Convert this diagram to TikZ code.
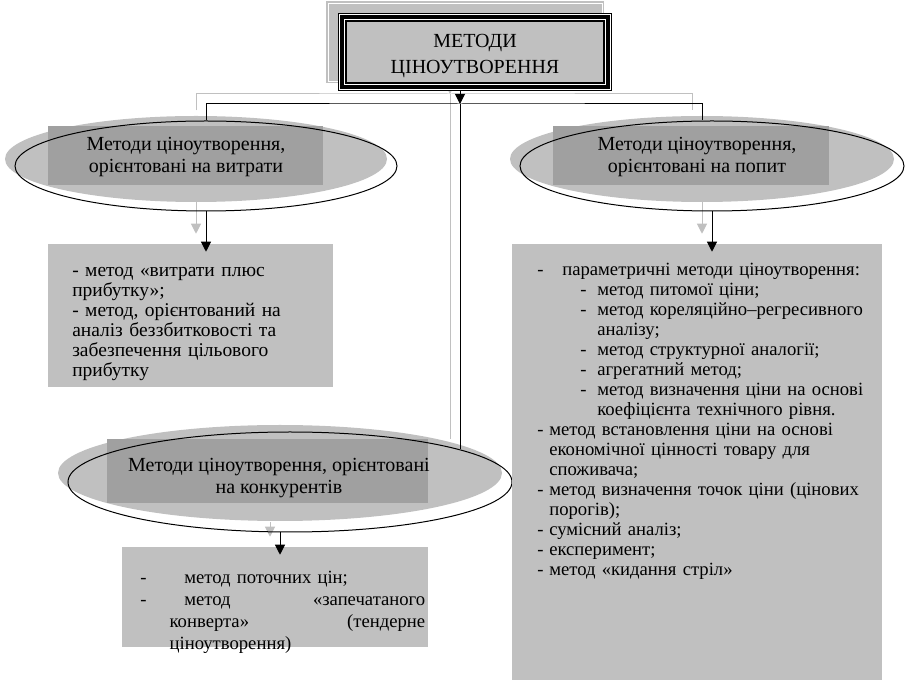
\documentclass[tikz,border=0pt]{standalone}
\usepackage{fontspec}
\setmainfont{Liberation Serif}
\usepackage{tikz}
\usetikzlibrary{shapes.geometric}
\usetikzlibrary{arrows.meta}
\usetikzlibrary{backgrounds}
\definecolor{boxgray}{RGB}{192,192,192}
\definecolor{bargray}{RGB}{160,160,160}
\newcommand{\topitem}[1]{\makebox[18.75pt][l]{-}#1}
\newcommand{\nesteditem}[1]{\hspace*{32.25pt}\makebox[12.75pt][l]{-}#1}
\newcommand{\nestedcont}[1]{\hspace*{45pt}#1}
\newcommand{\plainitem}[1]{\makebox[9pt][l]{-}#1}
\newcommand{\plaincont}[1]{\hspace*{9pt}#1}
\tikzstyle{frame back}=[fill=boxgray, draw=boxgray, double=white, double distance=0.6pt, line width=1pt, minimum width=205.5pt, minimum height=58.5pt, inner sep=0]
\tikzstyle{title frame}=[fill=boxgray, draw, line width=0.9pt, minimum width=193.5pt, minimum height=46.5pt, inner sep=0, outer sep=6pt, align=center, font=\fontsize{15}{19}\selectfont, preaction={draw, line width=12pt}, preaction={draw=white, line width=10.2pt}, preaction={draw, line width=8.4pt}, preaction={draw=white, line width=3.2pt}]
\tikzstyle{ellipse back}=[ellipse, fill=boxgray, inner sep=0]
\tikzstyle{ellipse frame}=[ellipse, draw, line width=0.75pt, inner sep=0]
\tikzstyle{bar}=[fill=bargray, inner sep=0]
\tikzstyle{bar label}=[align=center, inner sep=0, font=\fontsize{15}{16.2}\selectfont]
\tikzstyle{list box}=[fill=boxgray, inner sep=0]
\tikzstyle{list text}=[align=left, inner sep=0, anchor=base west, font=\fontsize{14}{15}\selectfont]
\tikzstyle{link}=[line width=0.75pt]
\tikzstyle{arrow}=[-{Triangle[length=7.5pt,width=7.5pt]}, shorten >=-6pt, line width=0.75pt]

\begin{document}
\begin{tikzpicture}[x=0.75pt, y=-0.75pt]
  \useasboundingbox (0,0) rectangle (908,680);

  \node [frame back] (mainback) at (465,42) {};
  \node [title frame] (main) at (475,52) {};
  \node [align=center, inner sep=0, font=\fontsize{15}{19}\selectfont] (maintitle) at (475,56) {МЕТОДИ\\ЦІНОУТВОРЕННЯ};
  \coordinate (hub) at (460,104);

  \node [ellipse back, minimum width=286.5pt, minimum height=64.5pt] (costback) at (196,159) {};
  \node [bar, minimum width=206.25pt, minimum height=44.25pt] (costbar) at (185.5,155.5) {};
  \node [ellipse frame, minimum width=286.5pt, minimum height=67.5pt] (cost) at (206,166) {};
  \node [bar label] (costlabel) at (186,157) {Методи ціноутворення,\\орієнтовані на витрати};

  \node [ellipse back, minimum width=288pt, minimum height=64.5pt] (demandback) at (702,159) {};
  \node [bar, minimum width=207pt, minimum height=44.25pt] (demandbar) at (691,155.5) {};
  \node [ellipse frame, minimum width=288pt, minimum height=67.5pt] (demand) at (712,166) {};
  \node [bar label] (demandlabel) at (697,157) {Методи ціноутворення,\\орієнтовані на попит};

  \node [ellipse back, minimum width=333pt, minimum height=72pt] (compback) at (280,473) {};
  \node [bar, minimum width=240.75pt, minimum height=48pt] (compbar) at (267.5,471) {};
  \node [ellipse frame, minimum width=333pt, minimum height=75pt] (comp) at (290,482) {};
  \node [bar label] (complabel) at (279,478) {Методи ціноутворення, орієнтовані\\на конкурентів};

  \node [list box, minimum width=213.75pt, minimum height=107.25pt] (costlist) at (190.5,315.5) {};
  \node [list text, text width=200pt, font=\fontsize{14.6}{15}\selectfont] (costtext) at (72,277) {- метод «витрати плюс\\прибутку»;\\- метод, орієнтований на\\аналіз беззбитковості та\\забезпечення цільового\\прибутку};

  \node [list box, minimum width=277.5pt, minimum height=327pt] (demandlist) at (697,462) {};
  \node [list text, text width=255pt] (demandtext) at (537,276) {%
    \topitem{параметричні методи ціноутворення:}\\
    \nesteditem{метод питомої ціни;}\\
    \nesteditem{метод кореляційно–регресивного}\\
    \nestedcont{аналізу;}\\
    \nesteditem{метод структурної аналогії;}\\
    \nesteditem{агрегатний метод;}\\
    \nesteditem{метод визначення ціни на основі}\\
    \nestedcont{коефіцієнта технічного рівня.}\\
    \plainitem{метод встановлення ціни на основі}\\
    \plaincont{економічної цінності товару для}\\
    \plaincont{споживача;}\\
    \plainitem{метод визначення точок ціни (цінових}\\
    \plaincont{порогів);}\\
    \plainitem{сумісний аналіз;}\\
    \plainitem{експеримент;}\\
    \plainitem{метод «кидання стріл»}};

  \node [list box, minimum width=229.5pt, minimum height=75pt] (complist) at (275,597) {};
  \node [list text, text width=213.75pt, font=\fontsize{14}{16.5}\selectfont] (comptext) at (140,584) {%
    \makebox[33pt][l]{-}метод поточних цін;\\
    \makebox[33pt][l]{-}метод\hfill«запечатаного\\
    \hspace*{22pt}конверта»\hfill(тендерне\\
    \hspace*{22pt}ціноутворення)};

  % shadow links
  \begin{pgfonlayer}{background}
    \begin{scope}[transform canvas={shift={(-10,-10)}}, draw=boxgray]
      \draw [arrow, shorten >=0pt] (main.south -| hub) -- (hub);
      \draw [link] (hub) -- (hub |- comp.11);
      \draw [link] (cost.north) |- (hub) -| ([xshift=-7.5pt]demand.north);
      \draw [arrow, shorten >=0pt] (cost.south) -- (cost.south |- costlist.north);
      \draw [arrow, shorten >=0pt] (demand.south) -- (demand.south |- demandlist.north);
      \draw [arrow, shorten >=0pt] ([xshift=-7.5pt]comp.south) -- ([xshift=-7.5pt]comp.south |- complist.north);
    \end{scope}
  \end{pgfonlayer}

  \draw [arrow, shorten >=0pt] (main.south -| hub) -- (hub);
  \draw [link] (hub) -- (hub |- comp.11);
  \draw [link] (cost.north) |- (hub) -| ([xshift=-7.5pt]demand.north);
  \draw [arrow] (cost.south) -- (cost.south |- costlist.north);
  \draw [arrow] (demand.south) -- (demand.south |- demandlist.north);
  \draw [arrow] ([xshift=-7.5pt]comp.south) -- ([xshift=-7.5pt]comp.south |- complist.north);
\end{tikzpicture}
\end{document}
